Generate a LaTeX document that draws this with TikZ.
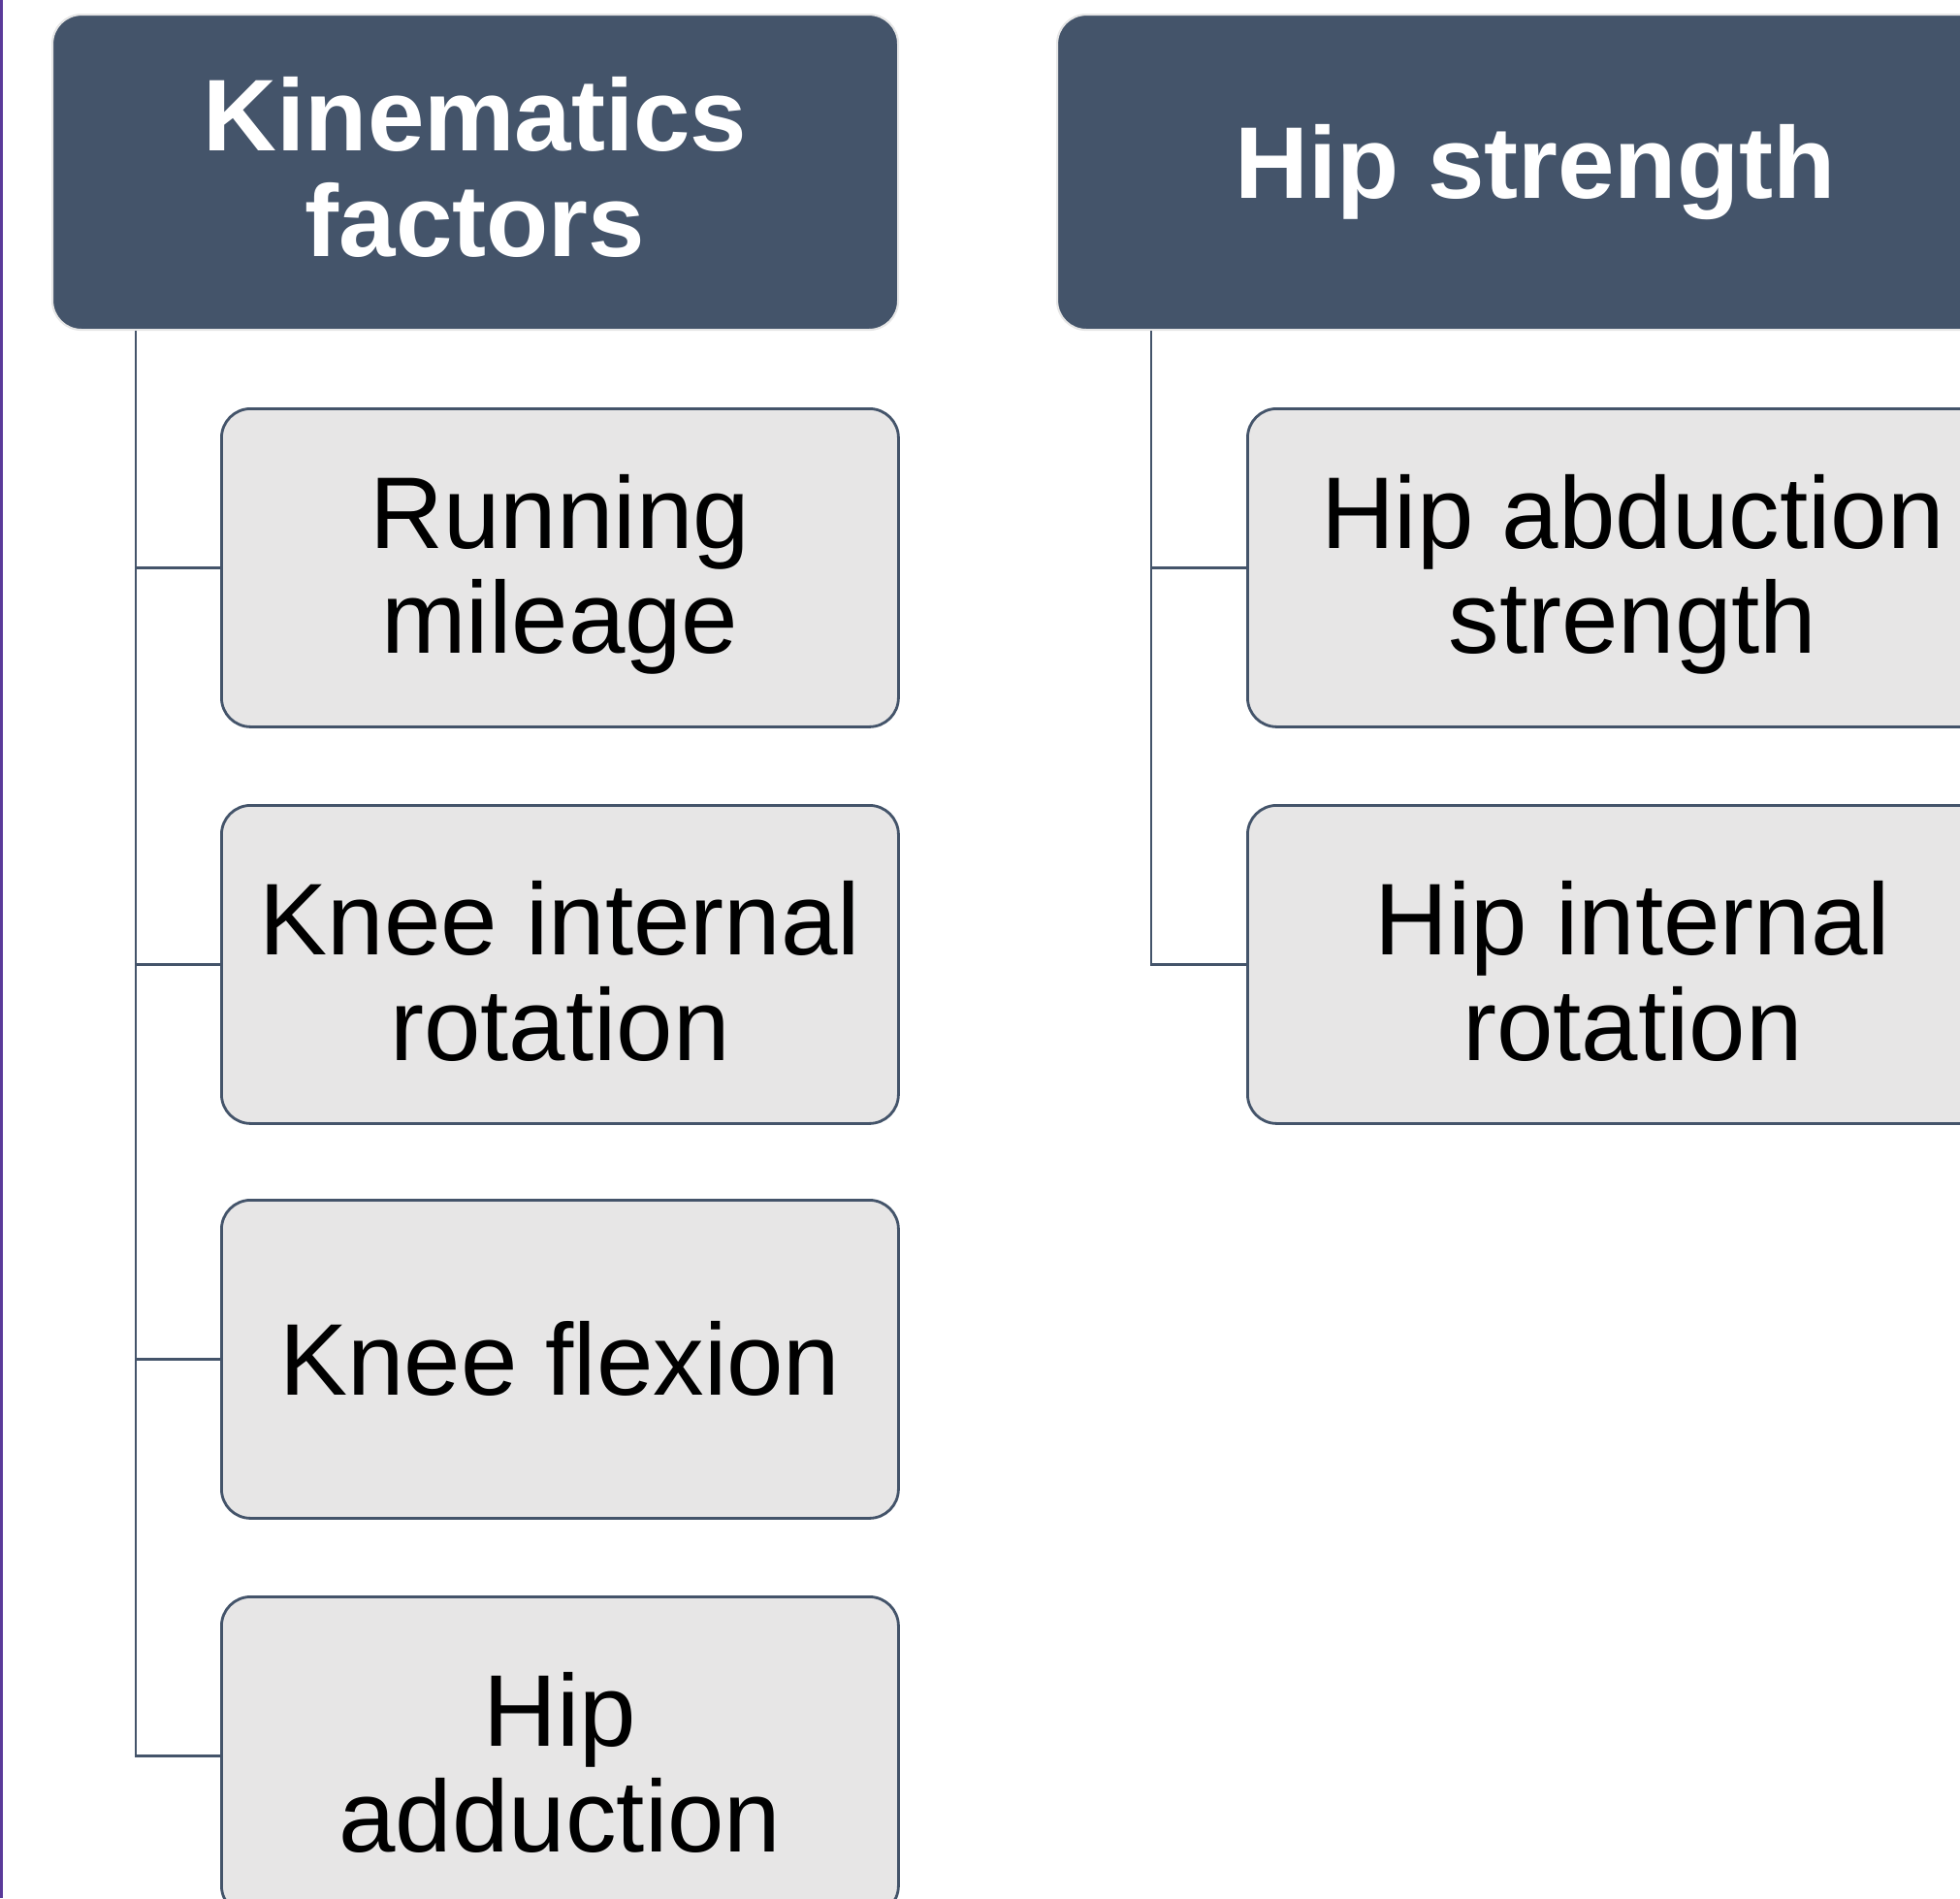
\documentclass[tikz,border=0pt]{standalone}
\usepackage{fontspec}
\setmainfont{Liberation Sans}
\definecolor{hdr}{HTML}{44546A}
\definecolor{chfill}{HTML}{E7E6E6}
\definecolor{hdrline}{HTML}{E6E6E6}
\definecolor{edgepurple}{HTML}{5A3A9A}
\tikzset{
  header/.style={draw=hdrline, line width=0.6pt, fill=hdr, rounded corners=0.3cm,
    anchor=north west, inner sep=0pt, align=center, text=white,
    font=\fontsize{29.9}{31}\selectfont\bfseries, minimum height=3.25cm},
  child/.style={draw=hdr, line width=0.8pt, fill=chfill, rounded corners=0.3cm,
    anchor=north west, inner sep=0pt, align=center, text=black,
    font=\fontsize{29.9}{31}\selectfont, minimum height=3.28cm},
  conn/.style={draw=hdr, line width=0.75pt}
}
\begin{document}
\begin{tikzpicture}
\useasboundingbox (0,0) rectangle (20.21,-19.57);
\clip (0,0) rectangle (20.21,-19.57);
\fill[edgepurple] (0,0) rectangle (0.03,-19.57);
% headers
\node[header, minimum width=8.72cm] (kin) at (0.53,-0.14) {Kinematics\\factors\rule[-0.12cm]{0pt}{0pt}};
\node[header, minimum width=9.86cm] (hip) at (10.89,-0.14) {Hip strength};
% trunk coordinates
\coordinate (trunkL) at (1.40,0);
\coordinate (trunkR) at (11.87,0);
% left children
\node[child, minimum width=6.98cm] (rm) at (2.27,-4.20) {\rule{0pt}{0.9cm}Running\\mileage};
\node[child, minimum width=6.98cm] (kir) at (2.27,-8.29) {\rule{0pt}{0.9cm}Knee internal\\rotation};
\node[child, minimum width=6.98cm] (kf) at (2.27,-12.36) {Knee flexion};
\node[child, minimum width=6.98cm] (ha) at (2.27,-16.45) {\rule{0pt}{0.9cm}Hip\\adduction};
% right children
\node[child, minimum width=7.94cm] (has) at (12.85,-4.20) {\rule{0pt}{0.9cm}Hip abduction\\strength};
\node[child, minimum width=7.94cm] (hir) at (12.85,-8.29) {\rule{0pt}{0.9cm}Hip internal\\rotation};
% connectors
\draw[conn] (kin.south -| trunkL) |- (rm.west);
\draw[conn] (kin.south -| trunkL) |- (kir.west);
\draw[conn] (kin.south -| trunkL) |- (kf.west);
\draw[conn] (kin.south -| trunkL) |- (ha.west);
\draw[conn] (hip.south -| trunkR) |- (has.west);
\draw[conn] (hip.south -| trunkR) |- (hir.west);
\end{tikzpicture}
\end{document}
